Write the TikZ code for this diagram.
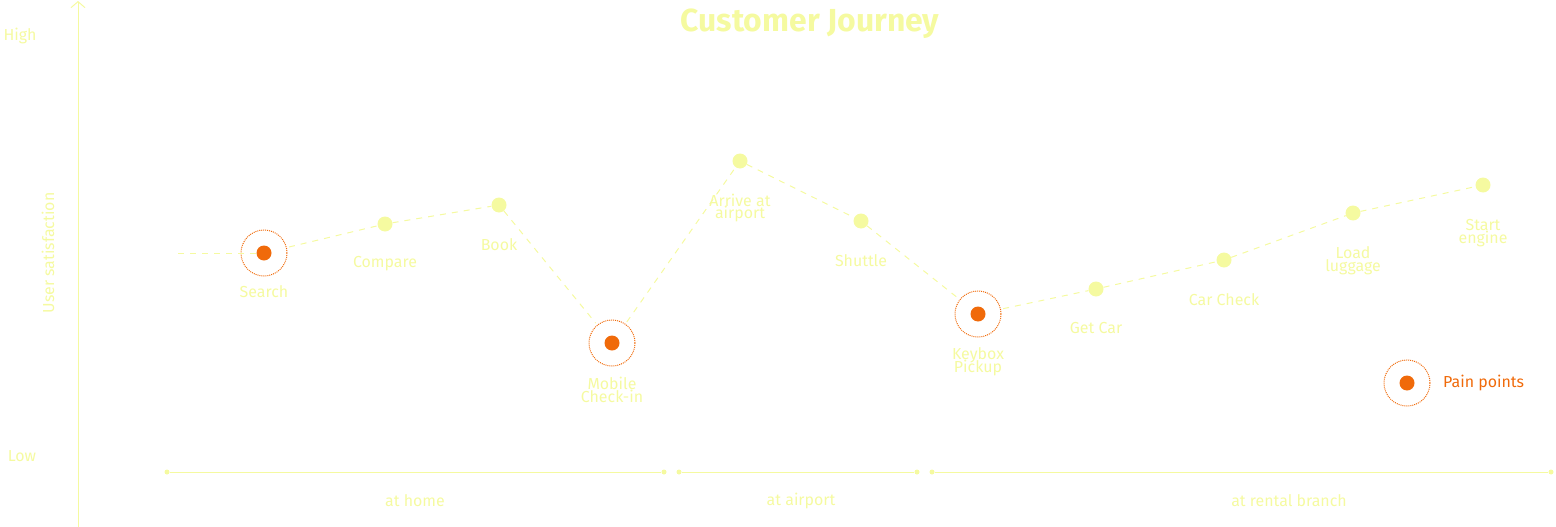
\documentclass[tikz,border=0pt]{standalone}
\usepackage{fontspec}
\setmainfont{Fira Sans}
\definecolor{pale}{HTML}{F5FAA0}
\definecolor{pain}{HTML}{F06A0A}
\usetikzlibrary{arrows.meta}
\tikzset{
  stage/.style={circle,fill=pale,inner sep=0pt,minimum size=15bp},
  painpt/.style={circle,fill=pain,inner sep=0pt,minimum size=15bp},
  ring/.style={draw=pain,densely dotted,line width=1pt},
  lbl/.style={text=pale,font=\fontsize{16}{16}\selectfont,align=center,inner sep=0pt},
  link/.style={pale,line width=1pt,dash pattern=on 6bp off 6bp},
  phase/.style={pale,line width=1pt},
  tick/.style={circle,fill=pale,inner sep=0pt,minimum size=5bp}
}
\begin{document}
\begin{tikzpicture}
\useasboundingbox (0bp,0bp) rectangle (1556bp,-527bp);

% axis
\coordinate (ax0) at (78bp,-527bp);
\coordinate (ax1) at (78bp,-1bp);
\draw[phase,-{Straight Barb[length=6bp,width=14bp]}] (ax0) -- (ax1);
\node[lbl] (high) at (20bp,-36bp) {High};
\node[lbl] (low) at (22bp,-456bp) {Low};
\node[lbl,rotate=90] (ylab) at (48bp,-253bp) {User satisfaction};
\node[text=pale,font=\bfseries\fontsize{32}{32}\selectfont] (title) at (810bp,-24bp) {Customer Journey};

% journey points
\coordinate (s0) at (178bp,-253bp);
\node[painpt] (search) at (264bp,-253bp) {};
\node[stage] (compare) at (385bp,-224bp) {};
\node[stage] (book) at (499bp,-205bp) {};
\node[painpt] (mobile) at (612bp,-343bp) {};
\node[stage] (arrive) at (740bp,-161bp) {};
\node[stage] (shuttle) at (861bp,-221bp) {};
\node[painpt] (keybox) at (978bp,-314bp) {};
\node[stage] (getcar) at (1096bp,-289bp) {};
\node[stage] (carcheck) at (1224bp,-260bp) {};
\node[stage] (load) at (1353bp,-213bp) {};
\node[stage] (start) at (1483bp,-185bp) {};

\foreach \p in {search,mobile,keybox}
  \draw[ring] (\p) circle (23bp);

\draw[link] (s0) -- (search);
\draw[link,shorten <=18bp] (search) -- (compare);
\draw[link] (compare) -- (book);
\draw[link,shorten >=18bp] (book) -- (mobile);
\draw[link,shorten <=18bp] (mobile) -- (arrive);
\draw[link] (arrive) -- (shuttle);
\draw[link,shorten >=18bp] (shuttle) -- (keybox);
\draw[link,shorten <=18bp] (keybox) -- (getcar);
\draw[link] (getcar) -- (carcheck);
\draw[link] (carcheck) -- (load);
\draw[link] (load) -- (start);

% labels
\node[lbl] (lsearch) at (264bp,-292bp) {Search};
\node[lbl] (lcompare) at (385bp,-264bp) {Compare};
\node[lbl] (lbook) at (499bp,-245bp) {Book};
\node[lbl] (lmobile) at (612bp,-390bp) {Mobile\\[-3bp]Check-in};
\node[lbl] (larrive) at (740bp,-208bp) {Arrive at\\[-3bp]airport};
\node[lbl] (lshuttle) at (861bp,-261bp) {Shuttle};
\node[lbl] (lkeybox) at (978bp,-362bp) {Keybox\\[-3bp]Pickup};
\node[lbl] (lgetcar) at (1096bp,-328bp) {Get Car};
\node[lbl] (lcarcheck) at (1224bp,-300bp) {Car Check};
\node[lbl] (lload) at (1353bp,-261bp) {Load\\[-3bp]luggage};
\node[lbl] (lstart) at (1483bp,-233bp) {Start\\[-3bp]engine};

% legend
\node[painpt] (leg) at (1407bp,-383bp) {};
\draw[ring] (leg) circle (23bp);
\node[lbl,text=pain,anchor=west] (legtxt) at (1443bp,-383bp) {Pain points};

% phases
\node[tick] (h0) at (167bp,-472bp) {};
\node[tick] (h1) at (664bp,-472bp) {};
\node[tick] (a0) at (679bp,-472bp) {};
\node[tick] (a1) at (917bp,-472bp) {};
\node[tick] (r0) at (932bp,-472bp) {};
\node[tick] (r1) at (1551bp,-472bp) {};
\draw[phase] (h0) -- (h1);
\draw[phase] (a0) -- (a1);
\draw[phase] (r0) -- (r1);
\node[lbl] (lhome) at (415bp,-501bp) {at home};
\node[lbl] (lair) at (801bp,-501bp) {at airport};
\node[lbl] (lrent) at (1289bp,-501bp) {at rental branch};
\end{tikzpicture}
\end{document}
